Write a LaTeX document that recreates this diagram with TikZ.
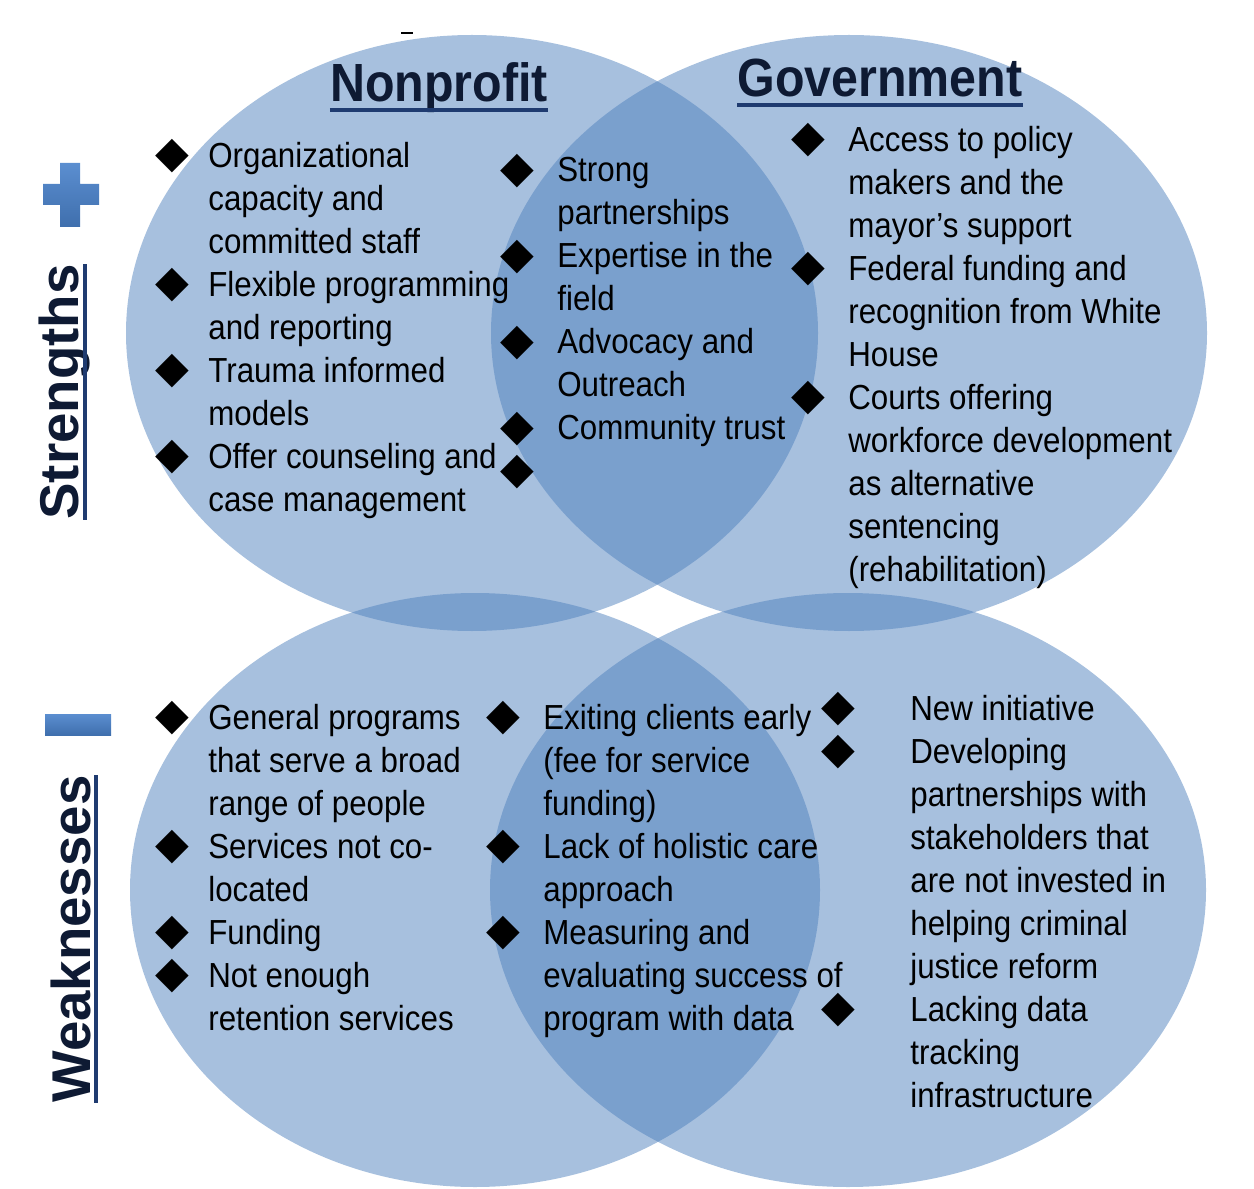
\documentclass[tikz,border=0pt]{standalone}
\usepackage{fontspec}
\setmainfont{Liberation Sans}[FakeStretch=0.9]
\newfontfamily\diafont{DejaVu Sans}
\newfontfamily\sidefont{Liberation Sans}
\usepackage{xcolor}
\usepackage{tikz}
\definecolor{vennblue}{HTML}{4F81BD}
\definecolor{signtop}{HTML}{5B8ED0}
\definecolor{signbot}{HTML}{3F6FAD}
\definecolor{headnavy}{HTML}{0E1A33}
\definecolor{linenavy}{HTML}{1F3B70}

\tikzset{
  venn/.style={fill=vennblue, fill opacity=0.5, draw=none},
  itemtext/.style={anchor=north west, inner sep=0pt, align=left,
    font=\fontsize{19.8}{24.45}\selectfont, execute at begin node=\strut},
  bullets/.style={anchor=north, inner sep=0pt, align=center,
    font=\diafont\fontsize{25}{24.45}\selectfont},
  heading/.style={anchor=base, inner sep=0pt, text=headnavy,
    font=\bfseries\fontsize{30.6}{36}\selectfont},
  side/.style={anchor=base, inner sep=0pt, rotate=90, text=headnavy,
    font=\sidefont\bfseries\fontsize{31.1}{36}\selectfont},
  uline/.style={draw=linenavy, line width=2.2pt},
  sign/.style={top color=signtop, bottom color=signbot, draw=none}
}

\begin{document}
\begin{tikzpicture}[x=0.02cm,y=-0.02cm]
    \useasboundingbox (0,0) rectangle (1254,1189);

    % the four circles
    \fill[venn] (472,333) ellipse [x radius=346, y radius=298];
    \fill[venn] (849,333) ellipse [x radius=358, y radius=298];
    \fill[venn] (475,890) ellipse [x radius=345, y radius=297];
    \fill[venn] (848,890) ellipse [x radius=358, y radius=297];

    \draw[line width=1.5pt] (401,33) -- (413,33);

    % plus and minus
    \shade[sign] (60,163) -- (80,163) -- (80,184) -- (99,184) -- (99,205) -- (80,205)
        -- (80,227) -- (60,227) -- (60,205) -- (43,205) -- (43,184) -- (60,184) -- cycle;
    \shade[sign] (45,714) rectangle (111,735);

    % side labels
    \node[side] (strengths) at (78,392) {Strengths};
    \node[side] (weaknesses) at (90,939) {Weaknesses};
    \draw[uline] ([xshift=0.14cm]strengths.base west) -- ([xshift=0.14cm]strengths.base east);
    \draw[uline] ([xshift=0.12cm]weaknesses.base west) -- ([xshift=0.12cm]weaknesses.base east);

    % headings
    \node[heading] (nonprofit) at (439,102) {Nonprofit};
    \node[heading] (government) at (880,97) {Government};
    \draw[uline] ([yshift=-0.16cm]nonprofit.base west) -- ([yshift=-0.16cm]nonprofit.base east);
    \draw[uline] ([yshift=-0.16cm]government.base west) -- ([yshift=-0.16cm]government.base east);

    % strengths
    \node[bullets] (tlb) at (172,139) {◆\\ \\ \\◆\\ \\◆\\ \\◆};
    \node[itemtext] (tl) at (208,142) {Organizational\\capacity and\\committed staff\\Flexible programming\\and reporting\\Trauma informed\\models\\Offer counseling and\\case management};
    \node[bullets] (tmb) at (517,154) {◆\\ \\◆\\ \\◆\\ \\◆\\◆};
    \node[itemtext] (tm) at (557,157) {Strong\\partnerships\\Expertise in the\\field\\Advocacy and\\Outreach\\Community trust};
    \node[bullets] (trb) at (808,123) {◆\\ \\ \\◆\\ \\ \\◆};
    \node[itemtext] (tr) at (848,126) {Access to policy\\makers and the\\mayor’s support\\Federal funding and\\recognition from White\\House\\Courts offering\\workforce development\\as alternative\\sentencing\\(rehabilitation)};

    % weaknesses
    \node[bullets] (blb) at (172,701) {◆\\ \\ \\◆\\ \\◆\\◆};
    \node[itemtext] (bl) at (208,704) {General programs\\that serve a broad\\range of people\\Services not co-\\located\\Funding\\Not enough\\retention services};
    \node[bullets] (bmb) at (503,701) {◆\\ \\ \\◆\\ \\◆};
    \node[itemtext] (bm) at (543,704) {Exiting clients early\\(fee for service\\funding)\\Lack of holistic care\\approach\\Measuring and\\evaluating success of\\program with data};
    \node[bullets] (brb) at (838,692) {◆\\◆\\ \\ \\ \\ \\ \\◆};
    \node[itemtext] (br) at (910,695) {New initiative\\Developing\\partnerships with\\stakeholders that\\are not invested in\\helping criminal\\justice reform\\Lacking data\\tracking\\infrastructure};
\end{tikzpicture}
\end{document}
